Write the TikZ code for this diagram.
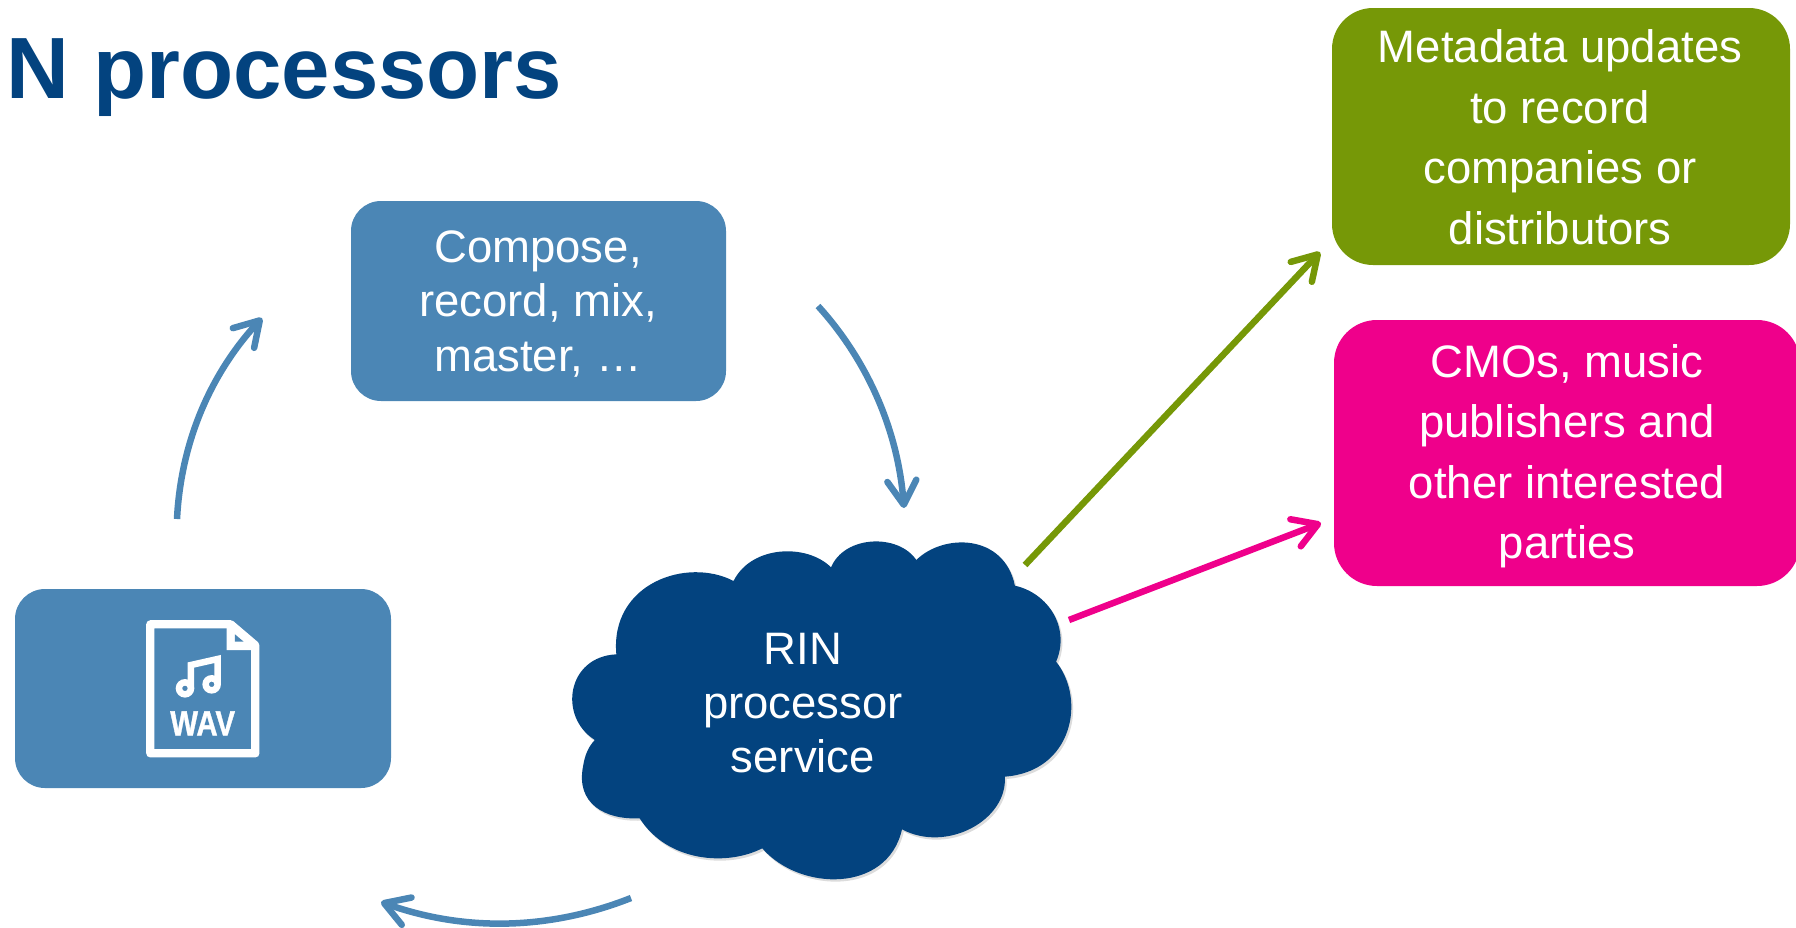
\documentclass[tikz,border=0pt]{standalone}
\usepackage{fontspec}
\setmainfont{Liberation Sans}
\newfontfamily\wavfont[FakeBold=1.2]{Liberation Sans Bold}
\usetikzlibrary{arrows.meta}
\definecolor{midblue}{HTML}{4B86B5}
\definecolor{navy}{HTML}{03437F}
\definecolor{olive}{HTML}{769807}
\definecolor{magentapink}{HTML}{EF008B}
\newcommand{\cloudoutline}{
  (540,183) .. controls (590,75) and (745,70) .. (812,142)
  .. controls (850,45) and (1000,40) .. (1050,120)
  .. controls (1125,40) and (1295,40) .. (1325,197)
  .. controls (1420,220) and (1480,325) .. (1440,425)
  .. controls (1525,540) and (1485,755) .. (1297,770)
  .. controls (1305,900) and (1135,1000) .. (1010,928)
  .. controls (970,1120) and (725,1115) .. (620,985)
  .. controls (520,1040) and (355,1025) .. (278,895)
  .. controls (180,900) and (100,850) .. (120,740) .. controls (125,705) and (135,680) .. (153,660)
  .. controls (50,590) and (75,410) .. (213,403)
  .. controls (195,190) and (410,110) .. (540,183) -- cycle}
\tikzset{
  x=1pt,y=-1pt,
  every node/.style={font=\fontsize{45.5}{60.5}\selectfont,text=white,align=center,inner sep=0pt},
  conn/.style={line width=6.5pt,-{Straight Barb[length=24pt,width=29pt,line width=6.5pt,round]}},
}
\begin{document}
\begin{tikzpicture}
\useasboundingbox (0,0) rectangle (1796,927);
\node[anchor=west,text=navy,font=\fontsize{87}{90}\selectfont\bfseries] (title) at (6,78) {N processors};
% boxes
\fill[olive,rounded corners=41pt] (1332,8) rectangle (1790,265);
\node (meta) at (1560,137) {Metadata updates\\to record\\companies or\\distributors};
\fill[magentapink,rounded corners=43pt] (1334,320) rectangle (1800,586);
\node (cmo) at (1567,456) {CMOs, music\\publishers and\\other interested\\parties};
\fill[midblue,rounded corners=30pt] (351,201) rectangle (726,401);
\node[font=\fontsize{45.5}{54.4}\selectfont] (compose) at (538,304) {Compose,\\record, mix,\\master, …};
\fill[midblue,rounded corners=30pt] (15,589) rectangle (391,788);
% WAV icon
\begin{scope}[shift={(100,590)},x=0.3333pt,y=-0.3333pt]
 \draw[white,line width=8.3pt,line join=round] (151,103) -- (392,103) -- (466,166) -- (466,490) -- (151,490) -- cycle;
 \fill[white] (380,95) -- (400,95) -- (475,160) -- (475,180) -- (380,180) -- cycle;
 \fill[midblue] (405,133) -- (431,155) -- (405,155) -- cycle;
 \draw[white,line width=6.5pt] (255,295) circle (18);
 \draw[white,line width=6.5pt] (335,283) circle (18);
 \draw[white,line width=6.5pt,line join=miter] (273,295) -- (273,225) -- (353,207) -- (353,283);
 \node[font=\fontsize{35}{35}\wavfont,xscale=.84] (wav) at (308,400) {WAV};
\end{scope}
% cloud
\begin{scope}[shift={(540,520)},x=0.3584pt,y=-0.3333pt]
 \fill[black!45,opacity=.3,shift={(5,7)}] \cloudoutline;
 \fill[navy] \cloudoutline;
\end{scope}
\node[font=\fontsize{45.5}{54.4}\selectfont] (rin) at (803,703) {RIN\\processor\\service};
% connectors
\coordinate (a1s) at (177,519); \coordinate (a1e) at (262,318);
\coordinate (a2s) at (818,306); \coordinate (a2e) at (904,508);
\coordinate (a3s) at (631,898); \coordinate (a3e) at (381,902);
\coordinate (a4s) at (1025,565); \coordinate (a4e) at (1320,252);
\coordinate (a5s) at (1069,620); \coordinate (a5e) at (1321,523);
\draw[midblue,conn] (a1s) .. controls (181,440) and (212,372) .. (a1e);
\draw[midblue,conn] (a2s) .. controls (860,352) and (897,420) .. (a2e);
\draw[midblue,conn] (a3s) .. controls (550,930) and (465,932) .. (a3e);
\draw[olive,conn] (a4s) -- (a4e);
\draw[magentapink,conn] (a5s) -- (a5e);
\end{tikzpicture}
\end{document}
